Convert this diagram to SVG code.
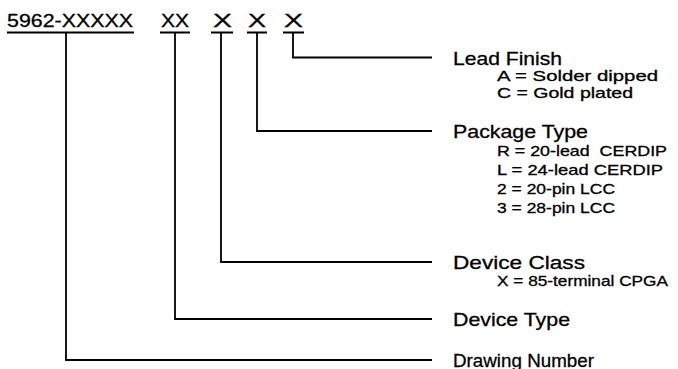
<svg xmlns="http://www.w3.org/2000/svg" width="678" height="369" viewBox="0 0 678 369">
<style>
text{font-family:"Liberation Sans",Arial,Helvetica,sans-serif;fill:#000;stroke:#000;stroke-width:0.3}
.code{font-size:19px}
.lbl{font-size:18.5px}
.sub{font-size:14.5px}
.ln{stroke:#000;stroke-width:1.8;fill:none}
</style>
<rect width="678" height="369" fill="#fff"/>
<g id="code">
<text class="code" x="7" y="27" textLength="126" lengthAdjust="spacingAndGlyphs">5962-XXXXX</text>
<text class="code" x="161" y="27" textLength="28" lengthAdjust="spacingAndGlyphs">XX</text>
<text class="code" x="213" y="27" textLength="19" lengthAdjust="spacingAndGlyphs">X</text>
<text class="code" x="248" y="27" textLength="18" lengthAdjust="spacingAndGlyphs">X</text>
<text class="code" x="284" y="27" textLength="19" lengthAdjust="spacingAndGlyphs">X</text>
<path class="ln" d="M7 32.5H134M160 32.5H190M211 32.5H233M247 32.5H267M283 32.5H304"/>
</g>
<g id="connectors">
<path class="ln" d="M293 32.5V57.5H432"/>
<path class="ln" d="M257 32.5V131H432"/>
<path class="ln" d="M221 32.5V262H432"/>
<path class="ln" d="M175 32.5V319H432"/>
<path class="ln" d="M66 32.5V360H432"/>
</g>
<g id="lead-finish">
<text class="lbl" x="453" y="64.5" textLength="109" lengthAdjust="spacingAndGlyphs">Lead Finish</text>
<text class="sub" x="497" y="81" textLength="161" lengthAdjust="spacingAndGlyphs">A = Solder dipped</text>
<text class="sub" x="497" y="98" textLength="136" lengthAdjust="spacingAndGlyphs">C = Gold plated</text>
</g>
<g id="package-type">
<text class="lbl" x="453" y="138" textLength="135" lengthAdjust="spacingAndGlyphs">Package Type</text>
<text class="sub" x="497" y="156" textLength="170" lengthAdjust="spacingAndGlyphs" xml:space="preserve">R = 20-lead  CERDIP</text>
<text class="sub" x="497" y="175" textLength="166" lengthAdjust="spacingAndGlyphs">L = 24-lead CERDIP</text>
<text class="sub" x="497" y="194" textLength="118" lengthAdjust="spacingAndGlyphs">2 = 20-pin LCC</text>
<text class="sub" x="497" y="213" textLength="118" lengthAdjust="spacingAndGlyphs">3 = 28-pin LCC</text>
</g>
<g id="device-class">
<text class="lbl" x="453" y="268.5" textLength="132" lengthAdjust="spacingAndGlyphs">Device Class</text>
<text class="sub" x="497" y="286" textLength="171" lengthAdjust="spacingAndGlyphs">X = 85-terminal CPGA</text>
</g>
<g id="device-type">
<text class="lbl" x="453" y="325.5" textLength="117" lengthAdjust="spacingAndGlyphs">Device Type</text>
</g>
<g id="drawing-number">
<text class="lbl" x="453" y="366.5" textLength="141" lengthAdjust="spacingAndGlyphs">Drawing Number</text>
</g>
</svg>
